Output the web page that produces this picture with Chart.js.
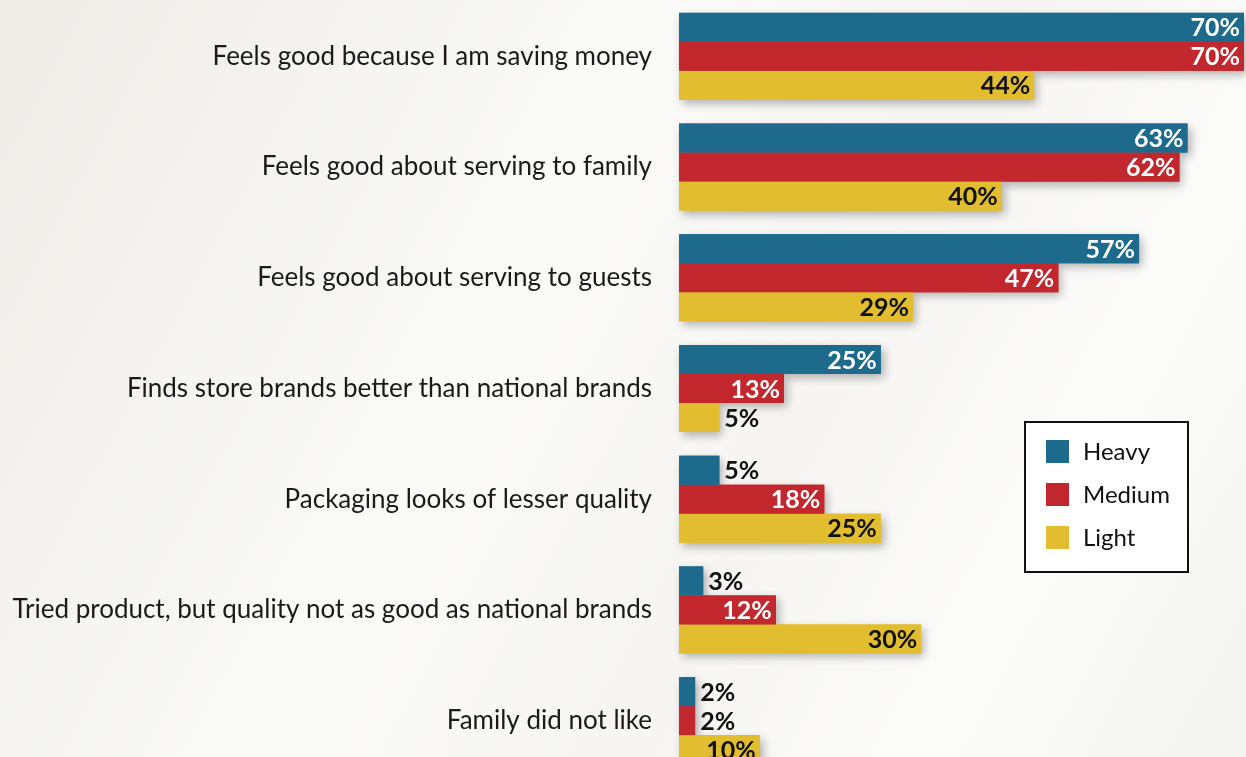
<!DOCTYPE html>
<html>
<head>
<meta charset="utf-8">
<title>Store brand attitudes by user type</title>
<script src="https://cdn.jsdelivr.net/npm/chart.js@4.4.1/dist/chart.umd.min.js"></script>
<style>
  html, body { margin: 0; padding: 0; width: 1246px; height: 757px; overflow: hidden; }
  body {
    background: linear-gradient(118deg, #edece7 0%, #f3f2ee 18%, #fafaf8 40%, #f6f5f2 62%, #fbfbfa 80%, #f4f4f1 100%);
  }
  #wrap { position: relative; width: 1246px; height: 780px; }
</style>
</head>
<body>
<div id="wrap"><canvas id="chart"></canvas></div>
<script>
// ---- data ----
const categories = [
  'Feels good because I am saving money',
  'Feels good about serving to family',
  'Feels good about serving to guests',
  'Finds store brands better than national brands',
  'Packaging looks of lesser quality',
  'Tried product, but quality not as good as national brands',
  'Family did not like'
];
const seriesNames = ['Heavy', 'Medium', 'Light'];
const heavy  = [70, 63, 57, 25, 5, 3, 2];
const medium = [70, 62, 47, 13, 18, 12, 2];
const light  = [44, 40, 29, 5, 25, 30, 10];

const COLORS = ['#1e6a8c', '#c1272d', '#e1bd2f'];
const LABEL_INSIDE = ['#ffffff', '#ffffff', '#111111'];
const FONT = 'Lato, "Open Sans", sans-serif';

// soft drop shadow under every bar (drawn first so the bars cover it),
// then value labels at the end of each bar
const barDecor = {
  id: 'barDecor',
  beforeDatasetsDraw(chart) {
    const ctx = chart.ctx;
    ctx.save();
    ctx.shadowColor = 'rgba(0,0,0,0.30)';
    ctx.shadowBlur = 9;
    ctx.shadowOffsetX = 3;
    ctx.shadowOffsetY = 4;
    chart.data.datasets.forEach((ds, di) => {
      chart.getDatasetMeta(di).data.forEach(bar => {
        ctx.fillStyle = COLORS[di];
        ctx.fillRect(bar.base, bar.y - bar.height / 2, bar.x - bar.base, bar.height);
      });
    });
    ctx.restore();
  },
  afterDatasetsDraw(chart) {
    const ctx = chart.ctx;
    ctx.save();
    ctx.font = 'bold 25px ' + FONT;
    ctx.textBaseline = 'middle';
    chart.data.datasets.forEach((ds, di) => {
      const meta = chart.getDatasetMeta(di);
      meta.data.forEach((bar, i) => {
        const txt = ds.data[i] + '%';
        const w = ctx.measureText(txt).width;
        const len = bar.x - bar.base;
        if (len >= w + 8) {
          ctx.fillStyle = LABEL_INSIDE[di];
          ctx.textAlign = 'right';
          ctx.fillText(txt, bar.x - 4, bar.y + 1);
        } else {
          ctx.fillStyle = '#111111';
          ctx.textAlign = 'left';
          ctx.fillText(txt, bar.x + 5, bar.y + 1);
        }
      });
    });
    ctx.restore();
  }
};

// boxed legend on the right
const boxLegend = {
  id: 'boxLegend',
  afterDraw(chart) {
    const ctx = chart.ctx;
    const x = 1024, y = 421, w = 165, h = 152;
    ctx.save();
    ctx.fillStyle = '#ffffff';
    ctx.fillRect(x, y, w, h);
    ctx.strokeStyle = '#111111';
    ctx.lineWidth = 2;
    ctx.strokeRect(x + 1, y + 1, w - 2, h - 2);
    ctx.font = '24px ' + FONT;
    ctx.textBaseline = 'middle';
    ctx.textAlign = 'left';
    seriesNames.forEach((name, i) => {
      const cy = y + 30 + i * 43;
      ctx.fillStyle = COLORS[i];
      ctx.fillRect(x + 22, cy - 11, 23, 23);
      ctx.fillStyle = '#111111';
      ctx.fillText(name, x + 59, cy + 1);
    });
    ctx.restore();
  }
};

const series = [heavy, medium, light];

new Chart(document.getElementById('chart'), {
  type: 'bar',
  data: {
    labels: categories,
    datasets: series.map((vals, i) => ({
      label: seriesNames[i],
      data: vals,
      backgroundColor: COLORS[i],
      borderWidth: 0,
      categoryPercentage: 0.786,
      barPercentage: 1.0
    }))
  },
  options: {
    indexAxis: 'y',
    responsive: true,
    maintainAspectRatio: false,
    animation: false,
    layout: { padding: { top: 1, bottom: 4, right: 2, left: 0 } },
    scales: {
      x: {
        min: 0,
        max: 70,
        display: false
      },
      y: {
        afterFit(scale) {
          scale.width = 679;
          scale.paddingTop = 0;
          scale.paddingBottom = 0;
        },
        grid: { display: false },
        border: { display: false },
        ticks: {
          color: '#1a1a1a',
          padding: 19,
          font: { family: FONT, size: 26 }
        }
      }
    },
    plugins: {
      legend: { display: false },
      tooltip: { enabled: false }
    }
  },
  plugins: [barDecor, boxLegend]
});
</script>
</body>
</html>
